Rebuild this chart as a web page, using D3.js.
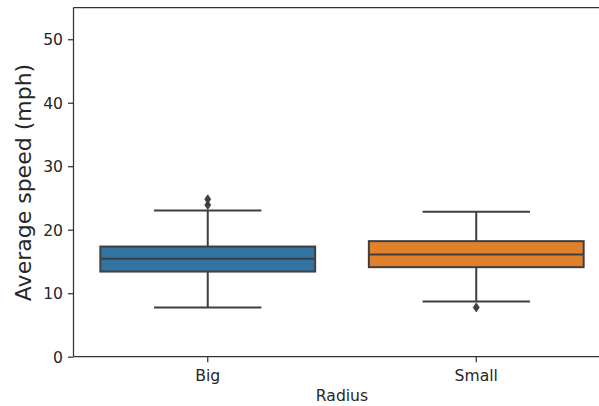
<!DOCTYPE html>
<html><head><meta charset="utf-8">
<script src="https://cdn.jsdelivr.net/npm/d3@7"></script>
<style>body{margin:0;background:#fff}svg{display:block}text{font-family:"DejaVu Sans",sans-serif;fill:#262626}</style>
</head><body><svg id="c" width="599" height="406"></svg>
<script>
const categories = ["Big", "Small"];
const whiskerLow = [7.73, 8.68];
const q1 = [13.41, 14.1];
const median = [15.41, 16.09];
const q3 = [17.35, 18.2];
const whiskerHigh = [23.03, 22.82];
const outliers = [[24.8, 23.9], [7.76]];
const colors = ["#3274a1", "#e1812c"];
const yTicks = [0, 10, 20, 30, 40, 50];

const svg = d3.select("#c");
const L = 73.5, T = 7.5, B = 356.7, R = 610.5;
const x = d3.scaleBand().domain(categories).range([L, R]).paddingInner(0).paddingOuter(0);
const y = d3.scaleLinear().domain([0, 55]).range([B, T]);
const line = "#3f3f3f";
const bw = x.bandwidth();

// boxes
categories.forEach((c, i) => {
  const cx = x(c) + bw / 2;
  const g = svg.append("g");
  const w = bw * 0.8, cap = w / 2;
  g.append("line").attr("x1", cx).attr("x2", cx).attr("y1", y(q3[i])).attr("y2", y(whiskerHigh[i])).attr("stroke", line).attr("stroke-width", 2);
  g.append("line").attr("x1", cx).attr("x2", cx).attr("y1", y(q1[i])).attr("y2", y(whiskerLow[i])).attr("stroke", line).attr("stroke-width", 2);
  g.append("line").attr("x1", cx - cap / 2).attr("x2", cx + cap / 2).attr("y1", y(whiskerHigh[i])).attr("y2", y(whiskerHigh[i])).attr("stroke", line).attr("stroke-width", 2);
  g.append("line").attr("x1", cx - cap / 2).attr("x2", cx + cap / 2).attr("y1", y(whiskerLow[i])).attr("y2", y(whiskerLow[i])).attr("stroke", line).attr("stroke-width", 2);
  g.append("rect").attr("x", cx - w / 2).attr("width", w).attr("y", y(q3[i])).attr("height", y(q1[i]) - y(q3[i]))
    .attr("fill", colors[i]).attr("stroke", line).attr("stroke-width", 2);
  g.append("line").attr("x1", cx - w / 2).attr("x2", cx + w / 2).attr("y1", y(median[i])).attr("y2", y(median[i])).attr("stroke", line).attr("stroke-width", 2);
  outliers[i].forEach(v => {
    const py = y(v);
    g.append("path").attr("d", `M${cx},${py - 4.5}L${cx + 3},${py}L${cx},${py + 4.5}L${cx - 3},${py}Z`)
      .attr("fill", line).attr("stroke", line).attr("stroke-width", 0.8);
  });
});

// spines
svg.append("line").attr("x1", L).attr("x2", L).attr("y1", T).attr("y2", B).attr("stroke", "#333").attr("stroke-width", 1.25);
svg.append("line").attr("x1", L).attr("x2", 599).attr("y1", T).attr("y2", T).attr("stroke", "#333").attr("stroke-width", 1.25);
svg.append("line").attr("x1", L).attr("x2", 599).attr("y1", B).attr("y2", B).attr("stroke", "#333").attr("stroke-width", 1.25);

// y axis
const yAxis = d3.axisLeft(y).tickValues(yTicks).tickSize(5.5).tickPadding(5);
const ya = svg.append("g").attr("transform", `translate(${L},0)`).call(yAxis);
ya.select(".domain").remove();
ya.selectAll(".tick line").attr("stroke", "#333").attr("stroke-width", 1.25);
ya.selectAll(".tick text").attr("font-size", 15.6).attr("font-family", "DejaVu Sans").attr("fill", "#262626").attr("dy", "0.36em");

// x axis
const xAxis = d3.axisBottom(x).tickSize(5.5).tickPadding(5);
const xa = svg.append("g").attr("transform", `translate(0,${B})`).call(xAxis);
xa.select(".domain").remove();
xa.selectAll(".tick line").attr("stroke", "#333").attr("stroke-width", 1.25);
xa.selectAll(".tick text").attr("font-size", 15.6).attr("font-family", "DejaVu Sans").attr("fill", "#262626").attr("dy", null).attr("y", 24.7);

svg.append("text").attr("x", 342).attr("y", 400.5).attr("text-anchor", "middle").attr("font-size", 15.6).text("Radius");
svg.append("text").attr("transform", "translate(31,182.5) rotate(-90)").attr("text-anchor", "middle").attr("font-size", 22).text("Average speed (mph)");
</script></body></html>
